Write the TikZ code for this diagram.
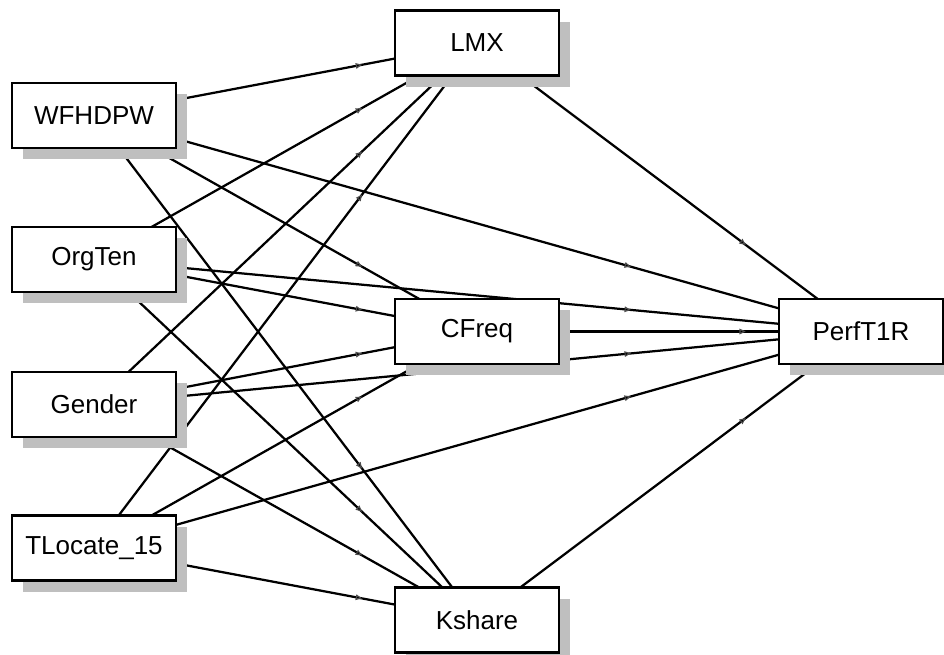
\documentclass[tikz,border=0pt]{standalone}
\usepackage{fontspec}
\setmainfont{Liberation Sans}
\usetikzlibrary{arrows.meta,shadows,backgrounds,decorations.markings}
\tikzset{
    % Define variable box style
    varbox/.style={
           draw=black,
           line width=1.6pt,
           fill=white,
           minimum width=4.1cm,
           minimum height=1.625cm,
           inner sep=0pt,
           font=\fontsize{18.5}{22}\selectfont,
           drop shadow={shadow xshift=0.275cm, shadow yshift=-0.275cm,
                        opacity=1, fill=black!25}},
    % Define path style, small tip at 0.7
    lnk/.style={
           line width=1.6pt,
           postaction={decorate},
           decoration={markings,
              mark=at position 0.7 with {\arrow{Triangle[open, length=4.5pt, width=4pt, line width=0.8pt, color=black!70]}}}}
}
\begin{document}
\begin{tikzpicture}[x=0.025cm, y=-0.025cm]
\useasboundingbox (0,0) rectangle (944,654);
\newcommand\xa{94}
\newcommand\xb{477}
\newcommand\xc{861}

% exogenous
\node[varbox] (wfh) at (\xa,115.5) {WFHDPW};
\node[varbox] (org) at (\xa,259.5) {OrgTen};
\node[varbox] (gen) at (\xa,404.5) {Gender};
\node[varbox] (tlo) at (\xa,548) {TLocate\_15};

% mediators
\node[varbox] (lmx) at (\xb,43) {LMX};
\node[varbox] (cfr) at (\xb,331.5) {CFreq};
\node[varbox] (ksh) at (\xb,620) {Kshare};

% outcome
\node[varbox] (prf) at (\xc,331.5) {PerfT1R};

\begin{scope}[on background layer]
\draw[lnk] (wfh.center) -- (lmx.center);
\draw[lnk] (wfh.center) -- (cfr.center);
\draw[lnk] (wfh.center) -- (ksh.center);
\draw[lnk] (wfh.center) -- (prf.center);

\draw[lnk] (org.center) -- (lmx.center);
\draw[lnk] (org.center) -- (cfr.center);
\draw[lnk] (org.center) -- (ksh.center);
\draw[lnk] (org.center) -- (prf.center);

\draw[lnk] (gen.center) -- (lmx.center);
\draw[lnk] (gen.center) -- (cfr.center);
\draw[lnk] (gen.center) -- (ksh.center);
\draw[lnk] (gen.center) -- (prf.center);

\draw[lnk] (tlo.center) -- (lmx.center);
\draw[lnk] (tlo.center) -- (cfr.center);
\draw[lnk] (tlo.center) -- (ksh.center);
\draw[lnk] (tlo.center) -- (prf.center);

\draw[lnk] (lmx.center) -- (prf.center);
\draw[lnk] (cfr.center) -- (prf.center);
\draw[lnk] (ksh.center) -- (prf.center);
\end{scope}

\end{tikzpicture}
\end{document}
